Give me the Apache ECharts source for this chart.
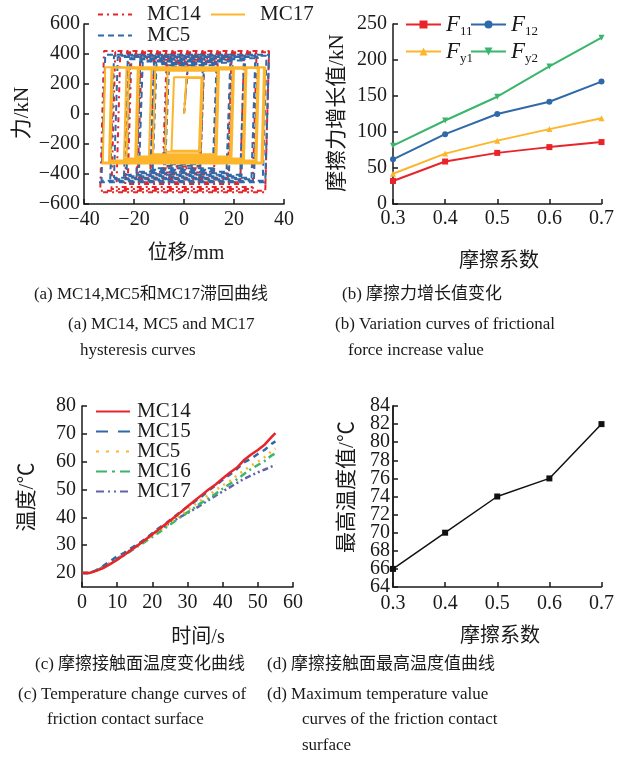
<!DOCTYPE html>
<html>
<head>
<meta charset="utf-8">
<script src="https://cdn.jsdelivr.net/npm/echarts@6/dist/echarts.min.js"></script>
<style>
  html, body { margin: 0; padding: 0; background: #fff; }
  #chart { width: 617px; height: 768px; }
</style>
</head>
<body>
<div id="chart"></div>
<script>
// ---------- (a) hysteresis loops: one entry per cycle ----------
// positive / negative displacement amplitude (mm), sliding force on top / bottom (kN)
const mc14AmpPos = [8, 8, 13.5, 13.5, 19, 19, 24, 24, 29, 29, 34, 34];
const mc14AmpNeg = [8, 8.5, 13, 13.5, 18.5, 19, 22.5, 23.5, 27, 29, 33.5, 34];
const mc14Top    = [325, 335, 345, 352, 362, 370, 380, 390, 398, 405, 412, 420];
const mc14Bot    = [-350, -362, -390, -402, -425, -437, -455, -467, -487, -500, -512, -522];

const mc5AmpPos = [7.5, 8, 13, 13.5, 18.5, 19.5, 24, 24.5, 28.5, 29.5, 33, 34];
const mc5AmpNeg = [7.5, 8, 12.5, 13.5, 18, 19, 23, 24, 28, 29.5, 33, 34];
const mc5Top    = [305, 315, 325, 332, 342, 350, 357, 365, 372, 380, 388, 395];
const mc5Bot    = [-335, -345, -362, -372, -385, -395, -405, -415, -425, -435, -445, -455];

const mc17AmpPos = [7, 7.5, 13.5, 14, 19.5, 20, 24.5, 25, 29.5, 30, 32, 32.5];
const mc17AmpNeg = [5, 7.5, 12.5, 14, 19, 19.5, 23, 24, 29.5, 30, 32.5, 33];
const mc17Top    = [240, 245, 288, 292, 296, 299, 302, 304, 306, 308, 310, 312];
const mc17Bot    = [-245, -252, -268, -275, -283, -290, -297, -303, -310, -316, -324, -330];

// ---------- (b) frictional force increase (kN) ----------
const muCategories = ['0.3', '0.4', '0.5', '0.6', '0.7'];
const f11 = [32, 59, 71, 79, 86];
const f12 = [62, 97, 125, 142, 170];
const fy1 = [42, 70, 88, 104, 119];
const fy2 = [81, 116, 149, 191, 231];

// ---------- (c) contact surface temperature (°C) ----------
const timeS = [0, 2, 4, 6, 8, 10, 12, 14, 16, 18, 20, 22, 24, 26, 28, 30, 32, 34, 36, 38, 40, 42, 44, 46, 48, 50, 52, 54, 55];
const tMC14 = [20, 20, 20.8, 21.8, 23.2, 24.8, 26.5, 28.3, 30.1, 32, 33.9, 35.8, 37.8, 39.8, 41.8, 43.9, 46, 48, 50, 51.8, 54, 56, 57.8, 60.5, 62.5, 64.2, 66.2, 69, 70.3];
const tMC15 = [20, 20, 21, 22.5, 24.3, 26, 27.3, 29, 30.5, 32.3, 34.3, 36.3, 38, 40, 42, 43.8, 45.6, 47.5, 49.6, 51.5, 53.5, 55.3, 57.3, 59.7, 61, 62.8, 64.3, 66.5, 67.3];
const tMC5  = [20, 20, 20.8, 22, 23.5, 25, 26.8, 28.5, 30, 31.8, 33.5, 35.3, 37, 39, 40.8, 42.6, 44.4, 46.3, 48, 49.8, 51.5, 53, 55, 56.8, 58.5, 60, 61.7, 63.8, 64.7];
const tMC16 = [20, 20, 20.8, 22, 23.4, 24.8, 26.4, 28, 29.7, 31.3, 33, 34.7, 36.5, 38.3, 40.1, 41.8, 43.5, 45.3, 46.8, 48.5, 50.3, 52, 53.6, 55.5, 57.3, 58.8, 60.3, 62.3, 63];
const tMC17 = [20, 20, 20.9, 22.2, 23.6, 25.2, 26.8, 28.5, 30.2, 32, 33.8, 35.5, 37.2, 38.8, 40.2, 41.6, 43, 44.6, 46.2, 47.8, 49.3, 50.8, 52.3, 53.8, 55, 56.2, 57.2, 58.3, 58.8];
const tempTicks = [20, 30, 40, 50, 60, 70, 80];

// ---------- (d) maximum temperature (°C) ----------
const maxTemp = [66, 70, 74, 76, 82];
// tick labels are split over two overlaid axes so the tightly packed labels all stay visible
const maxTempTicksA = [64, 68, 72, 76, 80, 84];
const maxTempTicksB = [66, 70, 74, 78, 82];

const FONT = "'Liberation Serif','Noto Sans CJK SC',serif";
const RED = '#e8242a', BLUE = '#2f69a8', YELLOW = '#fdb52b', GREEN = '#3ab56c', PURPLE = '#6262aa';

// Trace a friction hysteresis path cycle by cycle; d is the elastic slip at reversal
function loopPath(ampPos, ampNeg, top, bot, d) {
  const pts = [[0, 0]];
  let x = 0;
  for (let i = 0; i < ampPos.length; i++) {
    pts.push([x + d, top[i]]);
    pts.push([ampPos[i], top[i]]);
    pts.push([ampPos[i] - d, bot[i]]);
    pts.push([-ampNeg[i], bot[i]]);
    x = -ampNeg[i];
  }
  return pts;
}
const pairs = (xs, ys) => xs.map((x, i) => [x, ys[i]]);
const minus = v => String(v).replace('-', '\u2212');

const axisLine = { show: true, onZero: false, lineStyle: { color: '#1a1a1a', width: 1.5 } };
const axisTick = { show: true, inside: true, length: 5, lineStyle: { color: '#1a1a1a', width: 1.5 } };
const labelStyle = { color: '#1a1a1a', fontFamily: FONT, fontSize: 20, showMinLabel: true, showMaxLabel: true, hideOverlap: false };

function valueAxis(grid, min, max, interval, margin, extra) {
  return Object.assign({
    type: 'value', gridIndex: grid, min, max, interval,
    axisLine, axisTick, splitLine: { show: false },
    axisLabel: Object.assign({ margin, formatter: minus }, labelStyle)
  }, extra || {});
}
function catAxis(grid, margin) {
  return {
    type: 'category', gridIndex: grid, data: muCategories, boundaryGap: false,
    axisLine, axisTick: Object.assign({ alignWithLabel: true }, axisTick),
    splitLine: { show: false },
    axisLabel: Object.assign({ margin }, labelStyle)
  };
}

// single-entry legend placed at an exact spot; line-only icon (symbol hidden)
function legendAt(name, left, top, gap, dash) {
  const lg = {
    data: [name], left, top, itemWidth: 34, itemHeight: 14, padding: 0,
    itemStyle: { opacity: 0 },
    textStyle: { color: '#1a1a1a', fontFamily: FONT, fontSize: 21, padding: [0, 0, 0, gap] },
    selectedMode: false
  };
  if (dash) lg.lineStyle = { type: dash };
  return lg;
}
const fRich = {
  i: { fontFamily: FONT, fontStyle: 'italic', fontSize: 23, lineHeight: 28, verticalAlign: 'middle', color: '#1a1a1a' },
  s: { fontFamily: FONT, fontSize: 13, lineHeight: 16, verticalAlign: 'bottom', color: '#1a1a1a' }
};
function fLegend(name, left, top) {
  return {
    data: [name], left, top, itemWidth: 35, itemHeight: 10, padding: 0,
    formatter: n => '{i|F}{s|' + n.slice(1) + '}',
    textStyle: { rich: fRich },
    selectedMode: false
  };
}

function text(str, x, y, opts) {
  return {
    type: 'text', x, y, rotation: (opts && opts.rotation) || 0,
    style: {
      text: str, fill: '#1a1a1a', font: ((opts && opts.size) || 17) + 'px ' + FONT,
      textAlign: (opts && opts.align) || 'left', textVerticalAlign: 'middle'
    }
  };
}

const chart = echarts.init(document.getElementById('chart'), null, { renderer: 'canvas' });
chart.setOption({
  animation: false,
  backgroundColor: '#fff',
  grid: [
    { left: 84, top: 24, width: 200, height: 180 },
    { left: 393, top: 24, width: 209, height: 180 },
    { left: 82, top: 406, width: 211, height: 181 },
    { left: 393, top: 406, width: 209, height: 181 }
  ],
  xAxis: [
    valueAxis(0, -40, 40, 20, 6),
    catAxis(1, 5),
    valueAxis(2, 0, 60, 10, 6),
    catAxis(3, 7)
  ],
  yAxis: [
    valueAxis(0, -600, 600, 200, 4),
    valueAxis(1, 0, 250, 50, 6),
    valueAxis(2, 15, 80, 5, 6, {
      axisLabel: Object.assign({ margin: 6, customValues: tempTicks }, labelStyle),
      axisTick: Object.assign({ customValues: tempTicks }, axisTick)
    }),
    valueAxis(3, 64, 84, 2, 3, {
      position: 'left', offset: 0,
      axisLabel: Object.assign({}, labelStyle, { margin: 3, customValues: maxTempTicksA }),
      axisTick: Object.assign({ customValues: maxTempTicksA }, axisTick)
    }),
    valueAxis(3, 64, 84, 2, 3, {
      position: 'left', offset: 0,
      axisLabel: Object.assign({}, labelStyle, { margin: 3, customValues: maxTempTicksB }),
      axisTick: Object.assign({ customValues: maxTempTicksB }, axisTick)
    })
  ],
  legend: [
    legendAt('MC14', 97, 4, 10),
    legendAt('MC17', 210, 4, 10),
    legendAt('MC5', 97, 25, 10),
    fLegend('F11', 405, 13),
    fLegend('F12', 470, 13),
    fLegend('Fy1', 405, 40),
    fLegend('Fy2', 470, 40),
    legendAt('MC14 ', 95, 401, 2, 'solid'),
    legendAt('MC15', 95, 421, 2, [12, 10]),
    legendAt('MC5 ', 95, 441, 2, [3, 7]),
    legendAt('MC16', 95, 461, 2, [11, 5, 3, 5]),
    legendAt('MC17 ', 95, 481, 2, [8, 4, 2, 4, 2, 4])
  ],
  series: [
    // (a)
    { name: 'MC14', type: 'line', xAxisIndex: 0, yAxisIndex: 0, symbol: 'none',
      data: loopPath(mc14AmpPos, mc14AmpNeg, mc14Top, mc14Bot, 1.5),
      lineStyle: { color: RED, width: 2, type: [5, 4, 2, 4] }, itemStyle: { color: RED } },
    { name: 'MC5', type: 'line', xAxisIndex: 0, yAxisIndex: 0, symbol: 'none',
      data: loopPath(mc5AmpPos, mc5AmpNeg, mc5Top, mc5Bot, 1.5),
      lineStyle: { color: BLUE, width: 2, type: [6, 4] }, itemStyle: { color: BLUE } },
    { name: 'MC17', type: 'line', xAxisIndex: 0, yAxisIndex: 0, symbol: 'none',
      data: loopPath(mc17AmpPos, mc17AmpNeg, mc17Top, mc17Bot, 1.0),
      lineStyle: { color: YELLOW, width: 2 }, itemStyle: { color: YELLOW } },
    // (b)
    { name: 'F11', type: 'line', xAxisIndex: 1, yAxisIndex: 1, data: f11, symbol: 'rect', symbolSize: 6,
      lineStyle: { color: RED, width: 2 }, itemStyle: { color: RED } },
    { name: 'F12', type: 'line', xAxisIndex: 1, yAxisIndex: 1, data: f12, symbol: 'circle', symbolSize: 6,
      lineStyle: { color: BLUE, width: 2 }, itemStyle: { color: BLUE } },
    { name: 'Fy1', type: 'line', xAxisIndex: 1, yAxisIndex: 1, data: fy1, symbol: 'triangle', symbolSize: 6,
      lineStyle: { color: YELLOW, width: 2 }, itemStyle: { color: YELLOW } },
    { name: 'Fy2', type: 'line', xAxisIndex: 1, yAxisIndex: 1, data: fy2, symbol: 'triangle', symbolRotate: 180, symbolSize: 6,
      lineStyle: { color: GREEN, width: 2 }, itemStyle: { color: GREEN } },
    // (c)
    { name: 'MC17 ', type: 'line', xAxisIndex: 2, yAxisIndex: 2, symbol: 'none', data: pairs(timeS, tMC17),
      lineStyle: { color: PURPLE, width: 2.5, type: [6, 3, 2, 3, 2, 3] }, itemStyle: { color: PURPLE } },
    { name: 'MC16', type: 'line', xAxisIndex: 2, yAxisIndex: 2, symbol: 'none', data: pairs(timeS, tMC16),
      lineStyle: { color: GREEN, width: 2.5, type: [7, 4, 2, 4] }, itemStyle: { color: GREEN } },
    { name: 'MC5 ', type: 'line', xAxisIndex: 2, yAxisIndex: 2, symbol: 'none', data: pairs(timeS, tMC5),
      lineStyle: { color: YELLOW, width: 2.5, type: [2, 5] }, itemStyle: { color: YELLOW } },
    { name: 'MC15', type: 'line', xAxisIndex: 2, yAxisIndex: 2, symbol: 'none', data: pairs(timeS, tMC15),
      lineStyle: { color: BLUE, width: 2.5, type: [6, 5] }, itemStyle: { color: BLUE } },
    { name: 'MC14 ', type: 'line', xAxisIndex: 2, yAxisIndex: 2, symbol: 'none', data: pairs(timeS, tMC14),
      lineStyle: { color: RED, width: 2.5 }, itemStyle: { color: RED } },
    // (d)
    { name: 'maxT', type: 'line', xAxisIndex: 3, yAxisIndex: 3, data: maxTemp, symbol: 'rect', symbolSize: 6,
      lineStyle: { color: '#111', width: 1.5 }, itemStyle: { color: '#111' } }
  ],
  graphic: [
    // axis titles
    text('位移/mm', 186, 254, { size: 20, align: 'center' }),
    text('力/kN', 22, 113, { size: 21, align: 'center', rotation: Math.PI / 2 }),
    text('摩擦系数', 499, 262, { size: 20, align: 'center' }),
    text('摩擦力增长值/kN', 337, 113, { size: 21, align: 'center', rotation: Math.PI / 2 }),
    text('时间/s', 198, 638, { size: 20, align: 'center' }),
    text('温度/℃', 27, 497, { size: 21, align: 'center', rotation: Math.PI / 2 }),
    text('摩擦系数', 500, 637, { size: 20, align: 'center' }),
    text('最高温度值/℃', 347, 487, { size: 21, align: 'center', rotation: Math.PI / 2 }),
    // sub-figure captions
    text('(a) MC14,MC5和MC17滞回曲线', 151, 295, { align: 'center' }),
    text('(b) 摩擦力增长值变化', 422, 295, { align: 'center' }),
    text('(a) MC14, MC5 and MC17', 68, 325),
    text('hysteresis curves', 80, 351),
    text('(b) Variation curves of frictional', 335, 325),
    text('force increase value', 348, 351),
    text('(c) 摩擦接触面温度变化曲线', 35, 665),
    text('(d) 摩擦接触面最高温度值曲线', 267, 665),
    text('(c) Temperature change curves of', 18, 695),
    text('friction contact surface', 47, 720),
    text('(d) Maximum temperature value', 267, 695),
    text('curves of the friction contact', 302, 720),
    text('surface', 302, 746)
  ]
});
</script>
</body>
</html>
